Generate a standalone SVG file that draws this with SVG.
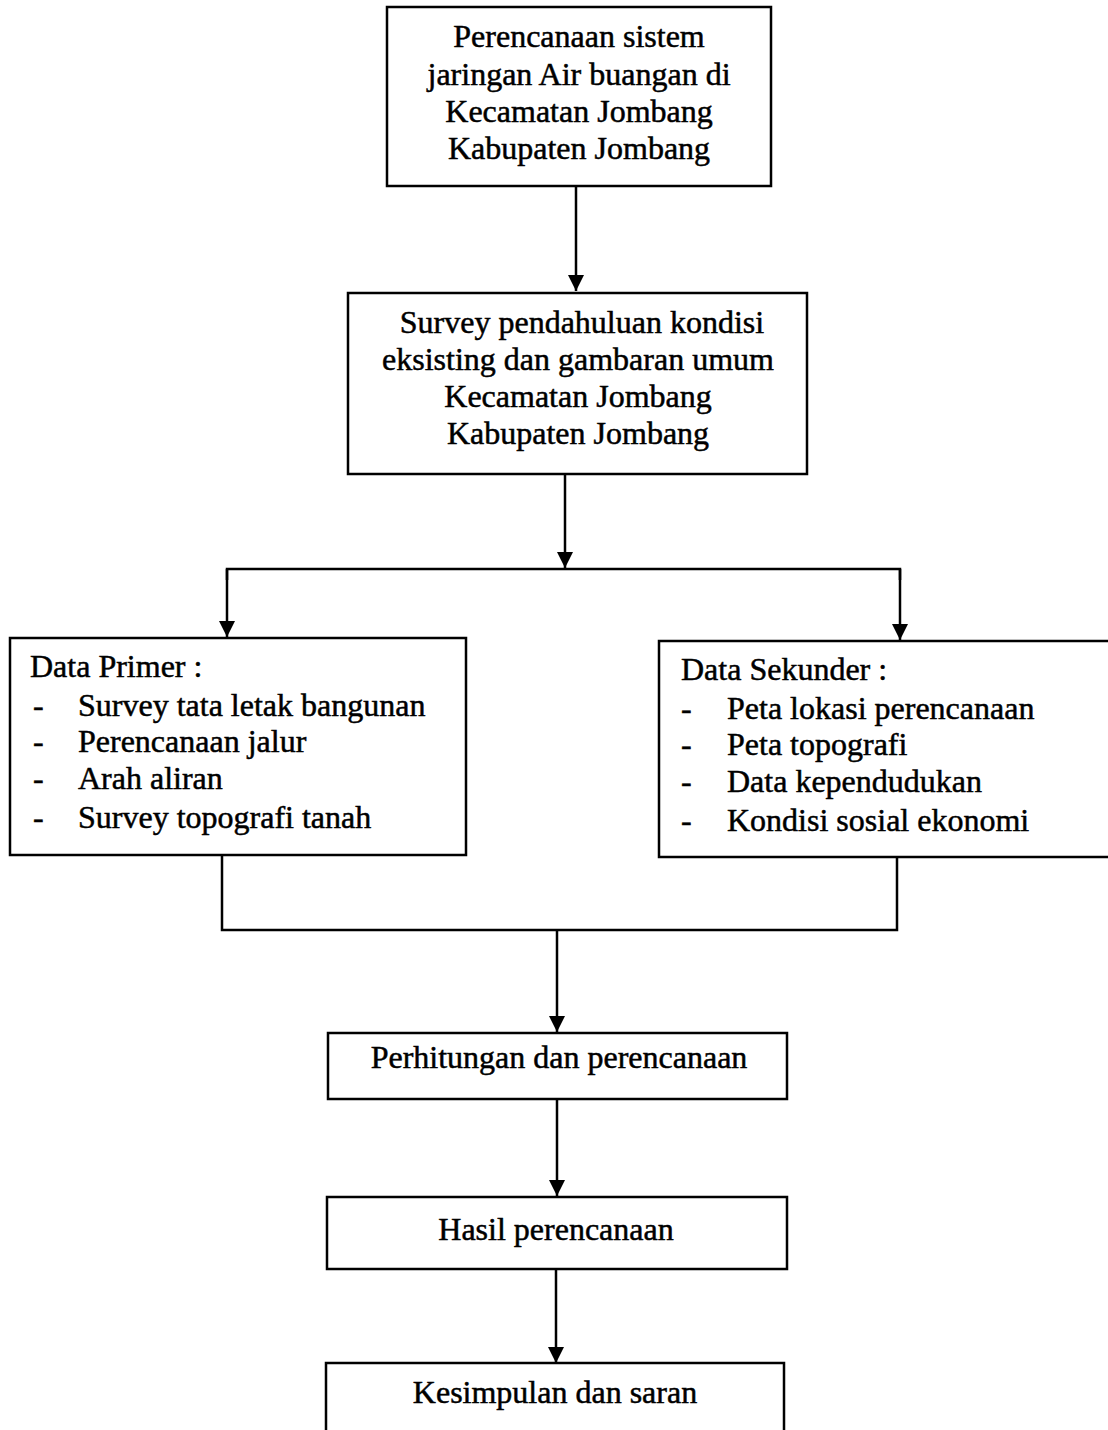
<svg xmlns="http://www.w3.org/2000/svg" width="1108" height="1430" viewBox="0 0 1108 1430">
<style>
.box{fill:#fff;stroke:#000;stroke-width:2.5}
.t{font-family:"Liberation Serif","Times New Roman",serif;font-size:32px;fill:#000;stroke:#000;stroke-width:0.5}
.c{text-anchor:middle}
.ln{fill:none;stroke:#000;stroke-width:2.5}
</style>
<defs>
<marker id="ah" viewBox="0 0 16 16" refX="16" refY="8" markerWidth="16" markerHeight="16" markerUnits="userSpaceOnUse" orient="auto">
<path d="M0,0 L16,8 L0,16 Z" fill="#000"/>
</marker>
</defs>
<rect width="1108" height="1430" fill="#fff"/>
<g id="connectors">
<line class="ln" x1="576" y1="186" x2="576" y2="291" marker-end="url(#ah)"/>
<line class="ln" x1="565" y1="474" x2="565" y2="568" marker-end="url(#ah)"/>
<polyline class="ln" points="227,580 227,569 900,569 900,580"/>
<line class="ln" x1="227" y1="569" x2="227" y2="637" marker-end="url(#ah)"/>
<line class="ln" x1="900" y1="569" x2="900" y2="640" marker-end="url(#ah)"/>
<polyline class="ln" points="222,855 222,930 897,930 897,857"/>
<line class="ln" x1="557" y1="930" x2="557" y2="1032" marker-end="url(#ah)"/>
<line class="ln" x1="557" y1="1099" x2="557" y2="1196" marker-end="url(#ah)"/>
<line class="ln" x1="556" y1="1269" x2="556" y2="1363" marker-end="url(#ah)"/>
</g>
<g id="n1">
<rect class="box" x="387" y="7" width="384" height="179"/>
<text class="t c" x="579" y="47">Perencanaan sistem</text>
<text class="t c" x="579" y="85">jaringan Air buangan di</text>
<text class="t c" x="579" y="122">Kecamatan Jombang</text>
<text class="t c" x="579" y="159">Kabupaten Jombang</text>
</g>
<g id="n2">
<rect class="box" x="348" y="293" width="459" height="181"/>
<text class="t c" x="582" y="333">Survey pendahuluan kondisi</text>
<text class="t c" x="578" y="370">eksisting dan gambaran umum</text>
<text class="t c" x="578" y="407">Kecamatan Jombang</text>
<text class="t c" x="578" y="444">Kabupaten Jombang</text>
</g>
<g id="n3">
<rect class="box" x="10" y="638" width="456" height="217"/>
<text class="t" x="30" y="677">Data Primer :</text>
<text class="t" x="33" y="716">-</text><text class="t" x="78" y="716">Survey tata letak bangunan</text>
<text class="t" x="33" y="752">-</text><text class="t" x="78" y="752">Perencanaan jalur</text>
<text class="t" x="33" y="789">-</text><text class="t" x="78" y="789">Arah aliran</text>
<text class="t" x="33" y="828">-</text><text class="t" x="78" y="828">Survey topografi tanah</text>
</g>
<g id="n4">
<rect class="box" x="659" y="641" width="460" height="216"/>
<text class="t" x="681" y="680">Data Sekunder :</text>
<text class="t" x="681" y="719">-</text><text class="t" x="727" y="719">Peta lokasi perencanaan</text>
<text class="t" x="681" y="755">-</text><text class="t" x="727" y="755">Peta topografi</text>
<text class="t" x="681" y="792">-</text><text class="t" x="727" y="792">Data kependudukan</text>
<text class="t" x="681" y="831">-</text><text class="t" x="727" y="831">Kondisi sosial ekonomi</text>
</g>
<g id="n5">
<rect class="box" x="328" y="1033" width="459" height="66"/>
<text class="t c" x="559" y="1068">Perhitungan dan perencanaan</text>
</g>
<g id="n6">
<rect class="box" x="327" y="1197" width="460" height="72"/>
<text class="t c" x="556" y="1240">Hasil perencanaan</text>
</g>
<g id="n7">
<rect class="box" x="326" y="1363" width="458" height="90"/>
<text class="t c" x="555" y="1403">Kesimpulan dan saran</text>
</g>
</svg>
